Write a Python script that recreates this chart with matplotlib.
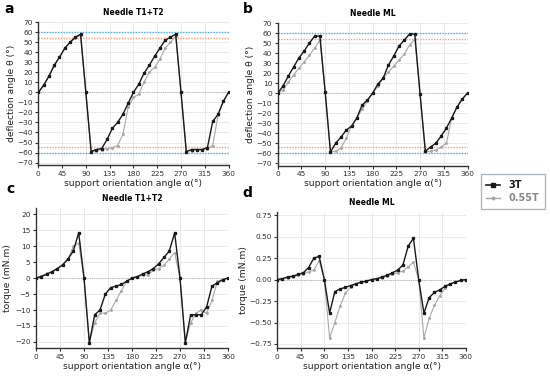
import numpy as np
import matplotlib
matplotlib.use("Agg")
import matplotlib.pyplot as plt
from matplotlib.lines import Line2D

# support orientation angle, sampled every 10 deg
alpha = list(range(0, 361, 10))

# deflection angle, needle T1+T2
defl_t1t2_3t = [0, 7, 16, 27, 35, 44, 50, 55, 58, 0, -59, -57, -56, -47, -36, -30, -22, -11, 0,
                8, 19, 27, 36, 44, 52, 55, 58, 0, -59, -57, -57, -57, -55, -29, -22, -9, 0]
defl_t1t2_055t = [0, 7, 16, 26, 35, 44, 50, 54, 57, 0, -59, -58, -57, -56, -55, -53, -42, -15, -5,
                  -2, 10, 20, 25, 33, 44, 50, 56, 0, -59, -58, -57, -57, -56, -53, -23, -9, 0]

# deflection angle, needle ML
defl_ml_3t = [0, 7, 17, 26, 35, 42, 50, 57, 57, 1, -59, -50, -44, -37, -33, -25, -12, -7, 0,
              9, 15, 28, 37, 47, 53, 59, 59, -1, -58, -54, -50, -43, -35, -25, -14, -6, 0]
defl_ml_055t = [0, 3, 11, 18, 25, 31, 38, 45, 53, 1, -59, -58, -55, -45, -33, -25, -16, -8, 0,
                7, 15, 21, 27, 33, 39, 48, 54, -1, -59, -58, -57, -54, -50, -25, -14, -6, 0]

# torque, needle T1+T2
torq_t1t2_3t = [0, 0.5, 1.2, 2, 3, 4.2, 6, 8.5, 14.2, 0, -20.3, -11.5, -10, -5, -3, -2.5, -2, -1, 0,
                0.5, 1.3, 2, 3, 4.5, 6.5, 8.5, 14.2, 0, -20.3, -11.5, -11.5, -11.5, -9, -2.5, -1.5, -0.5, 0]
torq_t1t2_055t = [0, 0.8, 1.5, 2, 3, 4, 6, 10, 11, 0, -20, -14, -11, -11, -10, -7, -4, -1, 0,
                  0.3, 1, 1, 2.5, 3, 4, 6, 8, 0, -20, -14, -11, -10, -11, -7, -1, -0.5, 0]

# torque, needle ML
torq_ml_3t = [0, 0.01, 0.03, 0.04, 0.06, 0.08, 0.14, 0.25, 0.27, 0, -0.39, -0.14, -0.11, -0.09, -0.07,
              -0.05, -0.03, -0.02, 0, 0.01, 0.03, 0.05, 0.08, 0.11, 0.17, 0.39, 0.48, 0, -0.39, -0.21,
              -0.15, -0.12, -0.08, -0.05, -0.03, -0.01, 0]
torq_ml_055t = [0, 0.01, 0.02, 0.03, 0.05, 0.07, 0.09, 0.11, 0.22, 0, -0.68, -0.5, -0.31, -0.16, -0.09,
                -0.05, -0.03, -0.02, 0, 0.01, 0.02, 0.04, 0.06, 0.08, 0.1, 0.15, 0.2, 0, -0.68, -0.45,
                -0.3, -0.19, -0.1, -0.05, -0.03, -0.01, 0]

BLACK = "#1a1a1a"
GRAY = "#a8a8a8"
BLUE = "#4bb4e6"
ORANGE = "#f4a07c"
LABEL_FS = 6.6

plt.rcParams["font.family"] = "DejaVu Sans"

fig = plt.figure(figsize=(5.5, 3.76), dpi=100)

ax_a = fig.add_axes([0.0696, 0.561, 0.346, 0.380])
ax_b = fig.add_axes([0.505, 0.5596, 0.345, 0.379])
ax_c = fig.add_axes([0.0655, 0.0737, 0.349, 0.3733])
ax_d = fig.add_axes([0.504, 0.0737, 0.343, 0.3633])


def style(ax, title, letter, lx, ly):
    ax.set_xlim(0, 360)
    ax.set_xticks(range(0, 361, 45))
    for s in ["top", "right"]:
        ax.spines[s].set_visible(False)
    for s in ["left", "bottom"]:
        ax.spines[s].set_color("#333333")
        ax.spines[s].set_linewidth(1.0)
    ax.tick_params(labelsize=5.3, length=2.5, width=0.8, pad=1.5, colors="#333333")
    ax.grid(True, color="#e6e6e6", linewidth=0.6)
    ax.set_axisbelow(True)
    ax.set_xlabel("support orientation angle α(°)", fontsize=LABEL_FS, labelpad=1.5, color="#222222")
    ax.set_title(title, fontsize=5.5, fontweight="bold", pad=5)
    fig.text(lx, ly, letter, fontsize=10, fontweight="bold", va="top", ha="left")


def draw(ax, y3, y055):
    ax.axhline(0, color="#bbbbbb", lw=0.8, ls=(0, (1, 1)), zorder=1)
    ax.plot(alpha, y055, color=GRAY, lw=0.8, marker="o", ms=1.1, zorder=2)
    ax.plot(alpha, y3, color=BLACK, lw=1.0, marker="s", ms=1.4, zorder=3)


for ax in (ax_a, ax_b):
    ax.set_ylim(-72.5, 70)
    ax.set_yticks(range(-70, 71, 10))
    for v in (60, -60):
        ax.axhline(v, color=BLUE, lw=1.0, ls=(0, (1, 1)), zorder=1)
    for v in (54, -54):
        ax.axhline(v, color=ORANGE, lw=1.0, ls=(0, (1, 1)), zorder=1)
    ax.set_ylabel("deflection angle θ (°)", fontsize=LABEL_FS, labelpad=1, color="#222222")

draw(ax_a, defl_t1t2_3t, defl_t1t2_055t)
draw(ax_b, defl_ml_3t, defl_ml_055t)
style(ax_a, "Needle T1+T2", "a", 0.008, 0.995)
style(ax_b, "Needle ML", "b", 0.441, 0.995)

ax_c.set_ylim(-22, 22)
ax_c.set_yticks(range(-20, 21, 5))
ax_c.set_ylabel("torque (mN.m)", fontsize=LABEL_FS, labelpad=2, color="#222222")
draw(ax_c, torq_t1t2_3t, torq_t1t2_055t)
style(ax_c, "Needle T1+T2", "c", 0.012, 0.515)

ax_d.set_ylim(-0.8, 0.79)
ax_d.set_yticks([-0.75, -0.5, -0.25, 0, 0.25, 0.5, 0.75])
ax_d.set_yticklabels(["−0.75", "−0.50", "−0.25", "0.00", "0.25", "0.50", "0.75"])
ax_d.set_ylabel("torque (mN.m)", fontsize=LABEL_FS, labelpad=1, color="#222222")
draw(ax_d, torq_ml_3t, torq_ml_055t)
style(ax_d, "Needle ML", "d", 0.441, 0.505)

handles = [Line2D([], [], color=BLACK, lw=1.2, marker="s", ms=2.2),
           Line2D([], [], color=GRAY, lw=1.0, marker="o", ms=1.8)]
leg = fig.legend(handles, ["3T", "0.55T"], loc="center",
                 bbox_to_anchor=(513 / 550, 1 - 191.5 / 376), fontsize=7,
                 frameon=True, fancybox=False, handlelength=1.4, handletextpad=0.9,
                 borderpad=0.6, labelspacing=0.3, borderaxespad=0)
leg.get_frame().set_edgecolor("#9aa6b0")
leg.get_frame().set_linewidth(1.0)
for t, c in zip(leg.get_texts(), [BLACK, "#888888"]):
    t.set_color(c)
    t.set_fontweight("bold")

fig.savefig("out.png", dpi=100)
